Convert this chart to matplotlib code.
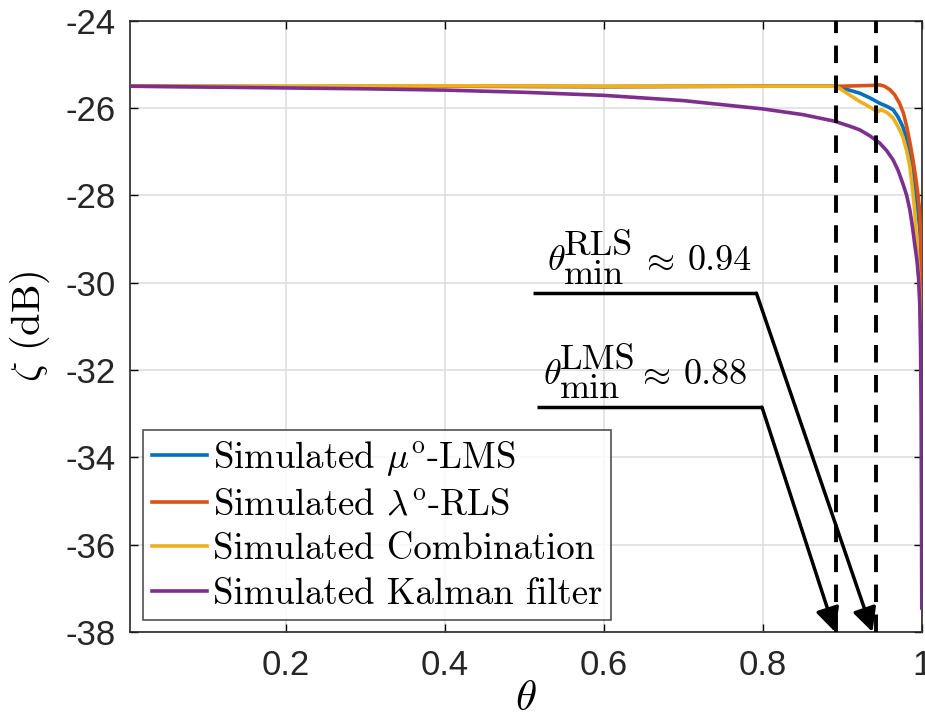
import matplotlib
matplotlib.use("Agg")
import matplotlib.pyplot as plt

plt.rcParams['mathtext.fontset'] = 'cm'
plt.rcParams['axes.unicode_minus'] = False

# simulated curves
theta_lms = [0.004, 0.2, 0.4, 0.6, 0.8, 0.89, 0.905, 0.922, 0.935, 0.947, 0.956, 0.964, 0.970,
             0.976, 0.981, 0.985, 0.988, 0.991, 0.994, 0.996, 0.998, 0.999, 1.0]
zeta_lms = [-25.50, -25.51, -25.50, -25.51, -25.50, -25.50, -25.57, -25.66, -25.77, -25.89, -25.96,
            -26.04, -26.20, -26.42, -26.70, -27.03, -27.40, -27.80, -28.20, -28.50, -28.90, -29.60, -31.0]

theta_rls = [0.004, 0.2, 0.4, 0.6, 0.8, 0.9, 0.942, 0.947, 0.953, 0.960, 0.966, 0.972, 0.977,
             0.981, 0.985, 0.989, 0.992, 0.995, 0.997, 0.9985, 0.9995, 1.0]
zeta_rls = [-25.50, -25.51, -25.50, -25.51, -25.50, -25.50, -25.48, -25.47, -25.50, -25.58, -25.70,
            -25.89, -26.12, -26.42, -26.78, -27.19, -27.55, -27.95, -28.30, -28.80, -29.60, -32.0]

theta_comb = [0.004, 0.2, 0.4, 0.6, 0.8, 0.892, 0.905, 0.922, 0.935, 0.942, 0.945, 0.949, 0.956,
              0.964, 0.970, 0.976, 0.981, 0.985, 0.988, 0.991, 0.993, 0.995, 0.997, 0.999, 1.0]
zeta_comb = [-25.50, -25.50, -25.49, -25.50, -25.50, -25.50, -25.65, -25.85, -25.98, -26.06, -26.08,
             -26.04, -26.10, -26.23, -26.42, -26.65, -26.98, -27.34, -27.80, -28.33, -28.90, -29.48,
             -30.10, -31.00, -32.3]

theta_kal = [0.004, 0.1, 0.2, 0.3, 0.4, 0.5, 0.6, 0.7, 0.8, 0.85, 0.89, 0.91, 0.922, 0.935, 0.947,
             0.956, 0.964, 0.970, 0.976, 0.981, 0.985, 0.988, 0.991, 0.994, 0.996, 0.9975, 0.9985,
             0.9992, 0.9997, 1.0]
zeta_kal = [-25.50, -25.52, -25.54, -25.56, -25.59, -25.64, -25.71, -25.83, -26.02, -26.15, -26.30,
            -26.42, -26.50, -26.64, -26.80, -26.98, -27.19, -27.42, -27.72, -28.00, -28.33, -28.68,
            -29.10, -29.50, -29.90, -30.50, -31.50, -33.00, -35.50, -37.45]

theta_min = [0.892, 0.942]
labels = [r'Simulated $\mu^{\mathrm{o}}$-LMS', r'Simulated $\lambda^{\mathrm{o}}$-RLS',
          'Simulated Combination', 'Simulated Kalman filter']
colors = ['#0072BD', '#D95319', '#EDB120', '#7E2F8E']

fig = plt.figure(figsize=(9.25, 7.26), dpi=100)
ax = fig.add_axes([0.1405, 0.1295, 0.856, 0.842])

series = [(theta_lms, zeta_lms), (theta_rls, zeta_rls), (theta_comb, zeta_comb), (theta_kal, zeta_kal)]
for (t, z), c, lab in zip(series, colors, labels):
    ax.plot(t, z, color=c, lw=2.6, label=lab, zorder=3)

for t in theta_min:
    ax.axvline(t, color='k', lw=2.8, ls=(0, (4.5, 3.2)), zorder=4)

# annotations: horizontal bar + arrow down to the dashed line
# (bar start, bar end, bar level, arrow tip, text left, superscript, value)
annots = [
    (0.511, 0.792, -30.24, 0.938, 0.528, 'RLS', '0.94'),
    (0.516, 0.799, -32.85, 0.891, 0.523, 'LMS', '0.88'),
]
fs = 26
for x0, x1, y, tip, xt, sup, val in annots:
    ax.plot([x0, x1], [y, y], color='k', lw=2.5, solid_capstyle='butt', zorder=5)
    ax.annotate('', xy=(tip, -38), xytext=(x1, y),
                arrowprops=dict(arrowstyle='-|>', lw=2.5, color='k', mutation_scale=36,
                                shrinkA=0, shrinkB=0),
                annotation_clip=False, zorder=5)
    # LaTeX-at-small-size look: scripts almost as large as the base text
    parts = [(r'$\theta$', 0, 23, None), (sup, 17, 38, 'cmr10'), ('min', 17, 9, 'cmr10'),
             (r'$\approx$', 93, 23, None), (val, 141, 23, 'cmr10')]
    for s, dx, dy, fam in parts:
        kw = {'family': fam} if fam else {}
        ax.annotate(s, xy=(xt, y), xytext=(dx, dy), textcoords='offset pixels',
                    fontsize=fs, ha='left', va='baseline', zorder=5, **kw)

ax.set_xlim(0.004, 1.0)
ax.set_ylim(-38, -24)
ax.set_xticks([0.2, 0.4, 0.6, 0.8, 1.0])
ax.set_xticklabels(['0.2', '0.4', '0.6', '0.8', '1'])
ax.set_yticks(range(-38, -23, 2))
ax.set_yticklabels([str(v) for v in range(-38, -23, 2)])
for lbl in ax.get_xticklabels() + ax.get_yticklabels():
    lbl.set_fontfamily('Liberation Sans')
    lbl.set_fontsize(25)
    lbl.set_color('#262626')
ax.tick_params(axis='y', direction='in', length=6, width=1, right=True, pad=10)
ax.tick_params(axis='x', direction='in', length=6, width=1, top=True, pad=12)
ax.grid(True, color='#dfdfdf', lw=1.2, zorder=0)
for s in ax.spines.values():
    s.set_color('#262626')
    s.set_linewidth(1.2)

ax.set_xlabel(r'$\theta$', fontsize=31, labelpad=-3)
ax.set_ylabel(r'$\zeta$ (dB)', fontsize=29, family='cmr10', labelpad=10)

leg = ax.legend(loc='lower left', bbox_to_anchor=(0.016, 0.02), prop={'family': 'cmr10', 'size': 26.5},
                frameon=True, fancybox=False, edgecolor='#262626', handlelength=1.5,
                handletextpad=0.15, borderpad=0.25, labelspacing=0.3, borderaxespad=0)
leg.get_frame().set_linewidth(1.2)
for h in leg.get_lines():
    h.set_linewidth(2.6)
leg.set_zorder(6)

fig.savefig('out.png', dpi=100)
